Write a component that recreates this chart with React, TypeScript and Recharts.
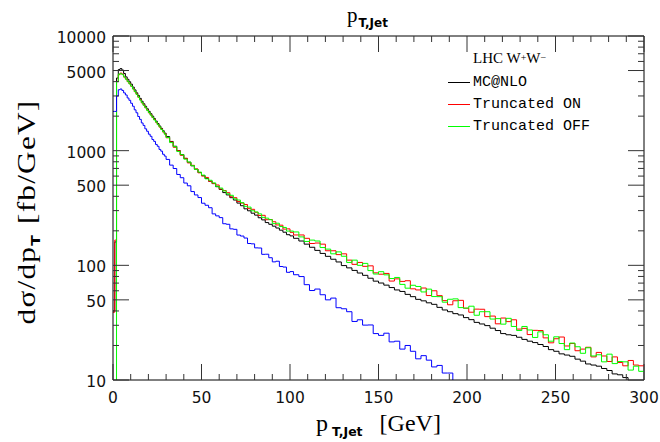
import { LineChart, Line, XAxis, YAxis, Legend, ReferenceLine } from 'recharts'

// bin left edges: 1 GeV bins to 30, 2 GeV bins to 102, 3 GeV bins to 300
const EDGES = [
  ...Array.from({ length: 30 }, (_, i) => i),
  ...Array.from({ length: 36 }, (_, i) => 30 + 2 * i),
  ...Array.from({ length: 66 }, (_, i) => 102 + 3 * i),
]
const X_MAX = 300

const X_TICKS = [0, 10, 20, 30, 40, 50, 60, 70, 80, 90, 100, 110, 120, 130, 140, 150, 160, 170, 180, 190, 200,
  210, 220, 230, 240, 250, 260, 270, 280, 290, 300]
const Y_TICKS = [10, 20, 30, 40, 50, 60, 70, 80, 90, 100, 200, 300, 400, 500, 600, 700, 800, 900,
  1000, 2000, 3000, 4000, 5000, 6000, 7000, 8000, 9000, 10000]
const Y_LABELED = [10, 50, 100, 500, 1000, 5000, 10000]

const MCNLO = [40, 160, 4300, 5100, 5200, 5050,
  4710, 4400, 4188, 3990, 3800, 3588, 3389, 3195, 3022, 2857, 2700, 2565,
  2438, 2318, 2205, 2100, 2000, 1904, 1812, 1724, 1642, 1564, 1490, 1422,
  1327, 1203, 1093, 1002, 925, 856, 793, 738, 689, 645, 606, 572,
  541, 516, 485, 459, 431, 411, 389, 371, 349, 331, 311, 299,
  285, 274, 260, 249, 236, 228, 219.5, 211.5, 202.6, 194.5, 185, 180.6,
  172, 163, 153, 143.7, 135, 127, 119.8, 113,
  107, 99.5, 95, 90.3, 85.7, 81.8, 77.2, 72.8, 70.1, 67.2,
  64, 61, 59.2, 55.8, 53.3, 50.5, 49, 47.1, 45.7, 43,
  40.8, 39.4, 37.9, 36.9, 35, 33.6, 31.8, 30.8, 29.8, 28.3,
  27, 25.4, 24.8, 24.5, 23.6, 22.6, 21.8, 21.2, 20.4, 19.6,
  18.4, 17.8, 16.9, 16.5, 16.1, 15.2, 14.6, 13.8, 13.5, 13.2,
  12.6, 12.1, 11.3, 11.1, 10.5, 9.8, 9.4, 9.0]

const TRUNC_ON = [39, 166, 4000, 4600, 4750, 4650,
  4380, 4210, 3995, 3835, 3640, 3465, 3268, 3110, 2922, 2780, 2612, 2498,
  2360, 2258, 2138, 2052, 1944, 1866, 1767, 1697, 1604, 1540, 1454, 1400,
  1295, 1190, 1070, 998, 910, 858, 782, 745, 692, 641, 601, 584,
  541, 517, 502, 463, 449, 430, 396, 389, 360, 349, 339, 312,
  308, 290, 272, 273, 250, 251, 240, 225, 224, 207, 208, 194,
  184, 184, 172, 155, 156.5, 153, 134, 134,
  124, 126, 111, 102, 106, 98, 99, 86, 83.7, 85,
  72.9, 76.2, 72.4, 73.4, 62.4, 61, 63.4, 54.5, 60, 54.4,
  49.2, 45.3, 49.1, 49.5, 42.3, 39, 41.5, 41.4, 35.7, 36.1,
  30.9, 34.7, 32.3, 33.5, 27.8, 28.2, 24.9, 27.1, 27, 23.3,
  21.1, 22.9, 23.7, 19.8, 20.8, 18, 18.6, 19.3, 15.9, 17.4,
  16.2, 14.5, 15.9, 14.2, 13.3, 14.8, 13.5, 13.3]

const TRUNC_OFF = [8, 8, 4000, 4650, 4700, 4600,
  4400, 4190, 4015, 3820, 3655, 3450, 3280, 3095, 2938, 2765, 2625, 2484,
  2372, 2244, 2150, 2040, 1956, 1853, 1778, 1686, 1614, 1528, 1465, 1390,
  1305, 1176, 1084, 985, 922, 843, 795, 740, 686, 650, 612, 568,
  552, 524, 489, 472, 446, 420, 408, 380, 371, 352, 327, 322,
  299, 292, 281, 262, 258, 250, 231, 233, 218, 214, 199, 199,
  195.5, 177, 161.5, 166, 163, 143, 138.5, 126,
  131, 120, 106, 111, 100, 104, 90, 84, 88, 82.6,
  76.7, 78.4, 68.2, 63.2, 67, 65.4, 58.6, 62, 53.4, 53.3,
  47.7, 50.6, 51, 42.8, 42.3, 44, 36.7, 39.4, 39.4, 34,
  34.3, 30.7, 34.5, 29.3, 27, 29.3, 27.3, 23.5, 26.3, 24.8,
  21.8, 23.8, 20.8, 18.4, 21, 19.5, 17.1, 19.1, 16.2, 16.6,
  14.4, 16.8, 13.9, 14.5, 14.4, 12.2, 13.2, 11.9]

// blue curve (no legend entry), stops near 192 GeV
const BLUE = [2200, 2200, 3000, 3400, 3450, 3350,
  3190, 3060, 2880, 2750, 2590, 2440, 2270, 2140, 1985, 1875, 1745, 1660,
  1550, 1476, 1392, 1334, 1252, 1205, 1133, 1092, 1025, 990, 930, 897,
  839, 748, 699, 620, 581, 522, 494, 440, 411, 390, 348, 334,
  318, 281, 270, 260.6, 230.6, 228, 208, 206, 183.7, 180, 173, 155,
  154, 142, 141.6, 124.7, 125, 116.5, 107.2, 108.6, 97.7, 96.6, 86.9, 88.2,
  82.8, 79.8, 67.8, 60.3, 62.1, 55.4, 50, 51.8,
  42.7, 41.8, 39.4, 32.4, 33.5, 30.1, 30.2, 25.4, 24.5, 25.6,
  21.5, 21.8, 18.6, 20, 17.8, 15.3, 16.3, 14.9, 13, 13.4,
  11.5, 11.5, 8]

const SERIES = [
  { key: 'mc', name: 'MC@NLO', color: '#000000' },
  { key: 'on', name: 'Truncated ON', color: '#ff0000' },
  { key: 'off', name: 'Truncated OFF', color: '#00ff00' },
]

const PLOT_TOP = 36
const PLOT_RIGHT = 644

// value of bin i, last value repeated once to close the final step
const val = (arr: number[], i: number) =>
  i < arr.length ? arr[i] : i === arr.length ? arr[arr.length - 1] : undefined

const rows = [...EDGES, X_MAX].map((x, i) => ({
  x,
  mc: val(MCNLO, i),
  on: val(TRUNC_ON, i),
  off: val(TRUNC_OFF, i),
  blue: val(BLUE, i),
}))

const TICK_FONT = { fontFamily: 'DejaVu Sans', fontSize: 15.5, fill: '#111' }

// eslint-disable-next-line @typescript-eslint/no-explicit-any
function XTick({ x, y, payload }: any) {
  const v = payload.value
  const len = v % 50 === 0 ? 16 : 6
  return (
    <g>
      <line x1={x} x2={x} y1={y} y2={y - len} stroke="#333" />
      <line x1={x} x2={x} y1={PLOT_TOP} y2={PLOT_TOP + len} stroke="#333" />
      {v % 50 === 0 && (
        <text x={x} y={y + 18} textAnchor="middle" dominantBaseline="central" {...TICK_FONT}>{v}</text>
      )}
    </g>
  )
}

// eslint-disable-next-line @typescript-eslint/no-explicit-any
function YTick({ x, y, payload }: any) {
  const v = payload.value
  const major = Y_LABELED.includes(v)
  const len = major ? 16 : 6
  return (
    <g>
      <line x1={x} x2={x + len} y1={y} y2={y} stroke="#333" />
      <line x1={PLOT_RIGHT} x2={PLOT_RIGHT - len} y1={y} y2={y} stroke="#333" />
      {major && (
        <text x={x - 7} y={y + 2} textAnchor="end" dominantBaseline="central" {...TICK_FONT}>{v}</text>
      )}
    </g>
  )
}

function LegendBox() {
  return (
    <div style={{ fontFamily: 'Liberation Mono', fontSize: 15, color: '#000', lineHeight: 1 }}>
      <div style={{ height: 26, display: 'flex', alignItems: 'center', paddingLeft: 25, fontFamily: 'Liberation Serif' }}>
        LHC W<sup style={{ fontSize: 10 }}>+</sup>W<sup style={{ fontSize: 10 }}>−</sup>
      </div>
      {SERIES.map(s => (
        <div key={s.key} style={{ height: 22, display: 'flex', alignItems: 'center' }}>
          <span style={{ display: 'block', width: 22, height: 1, background: s.color, marginRight: 3 }} />
          <span>{s.name}</span>
        </div>
      ))}
    </div>
  )
}

export default function App() {
  return (
    <div style={{ position: 'absolute', left: 0, top: 0, background: '#fff' }}>
      <LineChart width={660} height={442} data={rows} margin={{ top: PLOT_TOP, right: 660 - PLOT_RIGHT, bottom: 0, left: 0 }}>
        <XAxis dataKey="x" type="number" domain={[0, X_MAX]} ticks={X_TICKS} interval={0} allowDataOverflow
          height={62} tickSize={0} tickMargin={0} tickLine={false} axisLine={{ stroke: '#000' }} tick={<XTick />} />
        <YAxis scale="log" domain={[10, 10000]} ticks={Y_TICKS} interval={0} allowDataOverflow
          width={113} tickSize={0} tickMargin={0} tickLine={false} axisLine={{ stroke: '#000' }} tick={<YTick />} />
        <ReferenceLine y={10000} stroke="#000" />
        <ReferenceLine x={X_MAX} stroke="#000" />
        {SERIES.map(s => (
          <Line key={s.key} type="stepAfter" dataKey={s.key} name={s.name} stroke={s.color} strokeWidth={1}
            dot={false} isAnimationActive={false} />
        ))}
        <Line type="stepAfter" dataKey="blue" name="blue" legendType="none" stroke="#0000ff" strokeWidth={1} dot={false} isAnimationActive={false} />
        <Legend layout="vertical" align="center" verticalAlign="middle" content={<LegendBox />}
          wrapperStyle={{ left: 448, top: 45, width: 180, height: 'auto' }} />
        <text x={347} y={22} fontFamily="Liberation Serif" fontSize={21} fill="#000">
          p<tspan dy={5} dx={1} fontFamily="DejaVu Sans" fontWeight="bold" fontSize={12}>T,Jet</tspan>
        </text>
        <text x={316} y={431} fontFamily="Liberation Serif" fontSize={24} fill="#000">
          p<tspan dy={5} dx={4} fontFamily="DejaVu Sans" fontWeight="bold" fontSize={12.5}>T,Jet</tspan>
          <tspan dy={-5} dx={17}>[GeV]</tspan>
        </text>
        <g transform="translate(35, 212) rotate(-90) scale(1.25, 1)">
          <text x={0} y={0} textAnchor="middle" fontFamily="Liberation Serif" fontSize={25} letterSpacing={1} fill="#000">
            dσ/dp<tspan dy={5} fontFamily="DejaVu Sans" fontWeight="bold" fontSize={12.5}>T</tspan>
            <tspan dy={-5} dx={8}>[fb/GeV]</tspan>
          </text>
        </g>
      </LineChart>
    </div>
  )
}
